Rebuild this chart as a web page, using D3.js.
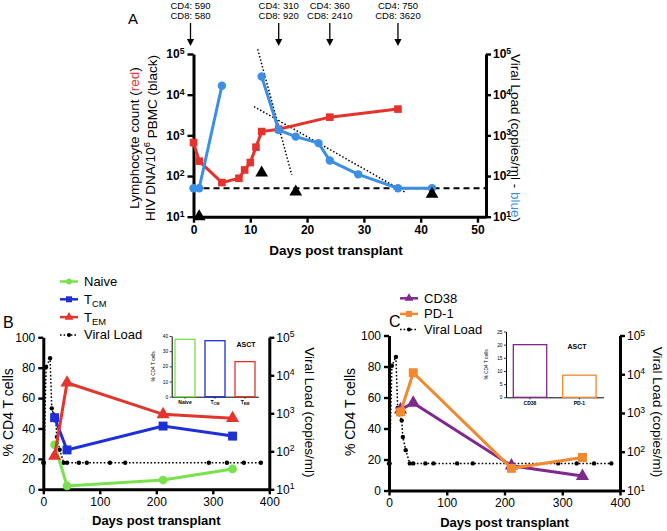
<!DOCTYPE html>
<html><head><meta charset="utf-8">
<script src="https://cdn.jsdelivr.net/npm/d3@7"></script>
<style>body{margin:0;background:#fff} svg{display:block;font-family:"Liberation Sans",Arial,Helvetica,sans-serif}</style>
</head><body><svg id="c" width="667" height="531"></svg>
<script>
// ===== Panel A data
const aDaysLymph = [0,1,5,8,9,10,11,12,15,24,36];
const aLymph = [665,232,69,88,141,214,513,1240,1420,2800,4420];
const aDaysVL1 = [0,1,5];
const aVL1 = [50,50,16600];
const aDaysVL2 = [12,15,18,22,24,29,36,42];
const aVL2 = [28000,1350,930,645,240,110,50,50];
const aDaysDNA = [1,12,18,42];
const aDNA = [10,120,41,36];
const aLimit = 50;
const aTrend1Days = [11.3,17.3]; const aTrend1 = [131000,107];
const aTrend2Days = [10.65,37.4]; const aTrend2 = [5100,39];
const aArrowDays = [0,15,24,36];
const aCD4 = [590,310,360,750];
const aCD8 = [580,920,2410,3620];
const aXTicks = [0,10,20,30,40,50];
const logTicks = [10,100,1000,10000,100000];

// ===== Panels B / C data
const bcDays = [20,42,212,335];
const naive = [29.3,2.2,6.1,13.4];
const tcm = [47.1,25.9,41.6,35];
const tem = [21.9,70.1,49.3,46.7];
const cd38 = [52.2,56.5,16,9.3];
const pd1 = [50.7,76,14.3,21.3];
const vlDays = [0,1,5,12,15,18,22,24,29,36,42,63,77,118,145,293,325,355,385];
const vl = [50,50,16600,28000,1350,930,645,240,110,50,50,50,50,50,50,50,50,50,50];
const pctTicks = [0,20,40,60,80,100];
const dayTicks = [0,100,200,300,400];
const insetBCats = ['Naive','TCM','TEM'];
const insetBVals = [37.8,36.9,23.1];
const insetBTicks = [0,10,20,30,40];
const insetCCats = ['CD38','PD-1'];
const insetCVals = [20,8.4];
const insetCTicks = [0,5,10,15,20,25];

const FONT = '"Liberation Sans", Arial, Helvetica, sans-serif';
const RED_A = '#e5322d', BLUE_A = '#3b8fe4';
const GREEN = '#78e24c', BLUE_B = '#1e2fd8', RED_B = '#e2352c';
const PURPLE = '#80298c', ORANGE = '#f0892f';

const svg = d3.select('#c');

function supFormat(g, weight) {
  g.selectAll('.tick text').each(function(d){
    const t = d3.select(this); t.text('');
    t.append('tspan').text('10');
    t.append('tspan').attr('dy','-0.5em').attr('font-size','0.72em').text(Math.round(Math.log10(d)));
  }).attr('font-weight', weight);
}
function styleAxis(g, w, fs, weight) {
  g.select('.domain').attr('stroke-width', w).attr('stroke','#000');
  g.selectAll('.tick line').attr('stroke-width', w*0.8).attr('stroke','#000');
  g.selectAll('.tick text').attr('font-size', fs).attr('font-family', FONT).attr('fill','#000').attr('font-weight', weight);
}
function zip(xs, ys){ return xs.map((x,i)=>[x, ys[i]]); }

// ================= PANEL A =================
const xA = d3.scaleLinear([0, 51.5], [193.5, 486]);
const yA = d3.scaleLog([10, 1e5], [216.7, 54]);
const gA = svg.append('g');

gA.append('line').attr('x1', xA(0)).attr('x2', xA(51.5)).attr('y1', yA(aLimit)).attr('y2', yA(aLimit))
  .attr('stroke','#000').attr('stroke-width',1.8).attr('stroke-dasharray','6,4');

[[aTrend1Days,aTrend1],[aTrend2Days,aTrend2]].forEach(([ds,vs])=>{
  gA.append('path').attr('d', d3.line().x(d=>xA(d[0])).y(d=>yA(d[1]))(zip(ds,vs)))
    .attr('fill','none').attr('stroke','#000').attr('stroke-width',1.5).attr('stroke-dasharray','1.5,2');
});

const axAL = gA.append('g').attr('transform',`translate(${xA(0)},0)`)
  .call(d3.axisLeft(yA).tickValues(logTicks).tickSize(6).tickSizeOuter(0).tickPadding(3));
styleAxis(axAL, 3, 12, 'bold'); supFormat(axAL, 'bold');
const axAR = gA.append('g').attr('transform',`translate(${xA(51.5)},0)`)
  .call(d3.axisRight(yA).tickValues(logTicks).tickSize(5).tickSizeOuter(0).tickPadding(2));
styleAxis(axAR, 3, 12, 'bold'); supFormat(axAR, 'bold');
const axAB = gA.append('g').attr('transform',`translate(0,${yA(10)})`)
  .call(d3.axisBottom(xA).tickValues(aXTicks).tickSize(6).tickSizeOuter(0).tickPadding(3));
styleAxis(axAB, 3, 12, 'bold');

const lineA = d3.line().x(d=>xA(d[0])).y(d=>yA(d[1]));
gA.append('path').attr('d', lineA(zip(aDaysLymph,aLymph))).attr('fill','none').attr('stroke',RED_A).attr('stroke-width',3);
gA.selectAll('.sqA').data(zip(aDaysLymph,aLymph)).join('rect')
  .attr('x',d=>xA(d[0])-3.8).attr('y',d=>yA(d[1])-3.8).attr('width',7.6).attr('height',7.6).attr('fill',RED_A);
[[aDaysVL1,aVL1],[aDaysVL2,aVL2]].forEach(([ds,vs])=>{
  gA.append('path').attr('d', lineA(zip(ds,vs))).attr('fill','none').attr('stroke',BLUE_A).attr('stroke-width',3);
  gA.selectAll(null).data(zip(ds,vs)).join('circle').attr('cx',d=>xA(d[0])).attr('cy',d=>yA(d[1])).attr('r',4.2).attr('fill',BLUE_A);
});
gA.selectAll('.triA').data(zip(aDaysDNA,aDNA)).join('path')
  .attr('d', d3.symbol(d3.symbolTriangle, 70)())
  .attr('transform', d=>`translate(${xA(d[0])},${yA(d[1])})`).attr('fill','#000');

aArrowDays.forEach((d,i)=>{
  const x = xA(d) - (d===0 ? 3 : 0);
  gA.append('line').attr('x1',x).attr('x2',x).attr('y1',23).attr('y2',40).attr('stroke','#000').attr('stroke-width',1.3);
  gA.append('path').attr('d',`M${x-3.6},39L${x+3.6},39L${x},46Z`).attr('fill','#000');
  gA.append('text').attr('x',x).attr('y',8.5).attr('text-anchor','middle').attr('font-size',9.5).text(`CD4: ${aCD4[i]}`);
  gA.append('text').attr('x',x).attr('y',19).attr('text-anchor','middle').attr('font-size',9.5).text(`CD8: ${aCD8[i]}`);
});
gA.append('text').attr('x',128).attr('y',23.5).attr('font-size',15).text('A');

const tl1 = gA.append('text').attr('transform','translate(138.5,138) rotate(-90)').attr('text-anchor','middle').attr('font-size',13.5);
tl1.append('tspan').text('Lymphocyte count (');
tl1.append('tspan').attr('fill',RED_A).text('red');
tl1.append('tspan').text(')');
const tl2 = gA.append('text').attr('transform','translate(155,138) rotate(-90)').attr('text-anchor','middle').attr('font-size',13.5);
tl2.append('tspan').text('HIV DNA/10');
tl2.append('tspan').attr('dy','-0.5em').attr('font-size','0.7em').text('6');
tl2.append('tspan').attr('dy','0.5em').text(' PBMC (black)');
const tr = gA.append('text').attr('transform','translate(511,138) rotate(90)').attr('text-anchor','middle').attr('font-size',13.5);
tr.append('tspan').text('Viral Load (copies/ml - ');
tr.append('tspan').attr('fill',BLUE_A).text('blue');
tr.append('tspan').text(')');
gA.append('text').attr('x',336).attr('y',255).attr('text-anchor','middle').attr('font-size',13.5).attr('font-weight','bold').text('Days post transplant');

// ================= PANELS B / C =================
function drawPanel(opt) {
  const g = svg.append('g');
  const x = d3.scaleLinear([0,400], opt.xr);
  const y = d3.scaleLinear([0,100], opt.yr);
  const yr = d3.scaleLog([10,1e5], opt.yr);

  const axL = g.append('g').attr('transform',`translate(${opt.xr[0]},0)`)
    .call(d3.axisLeft(y).tickValues(pctTicks).tickSize(5).tickSizeOuter(0).tickPadding(3));
  styleAxis(axL, 3, 12, 'normal');
  const axR = g.append('g').attr('transform',`translate(${opt.xr[1]},0)`)
    .call(d3.axisRight(yr).tickValues(logTicks).tickSize(5).tickSizeOuter(0).tickPadding(2));
  styleAxis(axR, 3, 12, 'normal'); supFormat(axR, 'normal');
  const axB = g.append('g').attr('transform',`translate(0,${opt.yr[0]})`)
    .call(d3.axisBottom(x).tickValues(dayTicks).tickSize(5).tickSizeOuter(0).tickPadding(3));
  styleAxis(axB, 3, 12, 'normal');

  const vlPts = zip(vlDays, vl);
  g.append('path').attr('d', d3.line().x(d=>x(d[0])).y(d=>yr(d[1]))(vlPts))
    .attr('fill','none').attr('stroke','#000').attr('stroke-width',1.5).attr('stroke-dasharray','1.6,2');
  g.selectAll(null).data(vlPts).join('circle').attr('cx',d=>x(d[0])).attr('cy',d=>yr(d[1])).attr('r',2.2).attr('fill','#000');

  opt.series.forEach(s=>{
    const pts = zip(bcDays, s.vals);
    g.append('path').attr('d', d3.line().x(d=>x(d[0])).y(d=>y(d[1]))(pts))
      .attr('fill','none').attr('stroke',s.color).attr('stroke-width',3);
    g.selectAll(null).data(pts).join('path').attr('d', d3.symbol(s.sym, s.size)())
      .attr('transform', d=>`translate(${x(d[0])},${y(d[1])})`).attr('fill',s.color);
  });

  opt.series.concat([{name:'Viral Load', vl:true}]).forEach((s,i)=>{
    const ly = opt.leg.y + i*opt.leg.dy;
    if (s.vl) {
      g.append('line').attr('x1',opt.leg.x).attr('x2',opt.leg.x+18).attr('y1',ly).attr('y2',ly)
        .attr('stroke','#000').attr('stroke-width',1.5).attr('stroke-dasharray','1.6,2');
      g.append('circle').attr('cx',opt.leg.x+9).attr('cy',ly).attr('r',2).attr('fill','#000');
    } else {
      g.append('line').attr('x1',opt.leg.x).attr('x2',opt.leg.x+18).attr('y1',ly).attr('y2',ly)
        .attr('stroke',s.color).attr('stroke-width',2.5);
      g.append('path').attr('d', d3.symbol(s.sym, s.size*0.45)()).attr('transform',`translate(${opt.leg.x+9},${ly})`).attr('fill',s.color);
    }
    const t = g.append('text').attr('x',opt.leg.x+24).attr('y',ly+4.5).attr('font-size',13);
    if (s.sub) { t.append('tspan').text(s.name); t.append('tspan').attr('dy','0.35em').attr('font-size','0.72em').text(s.sub); }
    else t.text(s.name);
  });

  g.append('text').attr('x',opt.letter[0]).attr('y',opt.letter[1]).attr('font-size',16).text(opt.letterText);

  const cy = (opt.yr[0]+opt.yr[1])/2 - 1;
  g.append('text').attr('transform',`translate(${opt.lt},${cy}) rotate(-90)`).attr('text-anchor','middle').attr('font-size',14).text('% CD4 T cells');
  g.append('text').attr('transform',`translate(${opt.rt},${cy}) rotate(90)`).attr('text-anchor','middle').attr('font-size',13.5).text('Viral Load (copies/ml)');
  g.append('text').attr('x',(opt.xr[0]+opt.xr[1])/2).attr('y',opt.xt).attr('text-anchor','middle').attr('font-size',13).attr('font-weight','bold').text('Days post transplant');

  const ins = opt.inset;
  const bx = d3.scaleBand(ins.cats, ins.xr).paddingInner(ins.pi).paddingOuter(ins.po);
  const by = d3.scaleLinear([0, ins.max], ins.yr);
  const ia = g.append('g').attr('transform',`translate(${ins.xr[0]},0)`)
    .call(d3.axisLeft(by).tickValues(ins.ticks).tickSize(2).tickSizeOuter(0).tickPadding(1.5));
  ia.select('.domain').attr('stroke-width',1);
  ia.selectAll('.tick line').attr('stroke-width',0.8);
  ia.selectAll('.tick text').attr('font-size',4.8).attr('font-family',FONT);
  const ib = g.append('g').attr('transform',`translate(0,${ins.yr[0]})`)
    .call(d3.axisBottom(bx).tickSize(2).tickSizeOuter(0).tickPadding(2));
  ib.select('.domain').attr('stroke-width',1);
  ib.selectAll('.tick line').attr('stroke-width',0.8);
  ib.selectAll('.tick text').attr('font-size',5).attr('font-weight','bold').attr('font-family',FONT).each(function(d){
    const t = d3.select(this);
    if (d==='TCM' || d==='TEM') { t.text(''); t.append('tspan').text('T'); t.append('tspan').attr('dy','0.3em').attr('font-size','0.75em').text(d.slice(1)); }
  });
  g.selectAll(null).data(ins.cats.map((c,i)=>[c, ins.vals[i], ins.colors[i]])).join('rect')
    .attr('x', d=>bx(d[0])).attr('width', bx.bandwidth())
    .attr('y', d=>by(d[1])).attr('height', d=>by(0)-by(d[1]))
    .attr('fill','#fff').attr('stroke', d=>d[2]).attr('stroke-width',1.3);
  g.append('text').attr('transform',`translate(${ins.lx},${(ins.yr[0]+ins.yr[1])/2}) rotate(-90)`).attr('text-anchor','middle').attr('font-size',4.8).text('% CD4 T cells');
  g.append('text').attr('x',ins.asct[0]).attr('y',ins.asct[1]).attr('text-anchor','middle').attr('font-size',7).attr('font-weight','bold').text('ASCT');
}

drawPanel({
  xr:[43.3,269.3], yr:[489.3,337.3],
  series:[
    {name:'Naive', vals:naive, color:GREEN, sym:d3.symbolCircle, size:60},
    {name:'T', sub:'CM', vals:tcm, color:BLUE_B, sym:d3.symbolSquare, size:80},
    {name:'T', sub:'EM', vals:tem, color:RED_B, sym:d3.symbolTriangle, size:75}
  ],
  leg:{x:60, y:281.5, dy:17.8},
  letter:[3,327.5], letterText:'B',
  lt:13, rt:305, xt:524.5,
  inset:{cats:insetBCats, vals:insetBVals, colors:[GREEN,BLUE_B,RED_B], max:40, ticks:insetBTicks,
         xr:[171.7,258.3], yr:[396.7,336], pi:1/3, po:0.11, lx:155, asct:[246,346.5]}
});

drawPanel({
  xr:[389,620], yr:[490.5,335.5],
  series:[
    {name:'CD38', vals:cd38, color:PURPLE, sym:d3.symbolTriangle, size:75},
    {name:'PD-1', vals:pd1, color:ORANGE, sym:d3.symbolSquare, size:80}
  ],
  leg:{x:400, y:298.3, dy:15.6},
  letter:[389,326.5], letterText:'C',
  lt:355, rt:653, xt:527,
  inset:{cats:insetCCats, vals:insetCVals, colors:[PURPLE,ORANGE], max:25, ticks:insetCTicks,
         xr:[506,603.4], yr:[397.3,331.5], pi:0.324, po:0.148, lx:488, asct:[577,348.5]}
});
</script></body></html>
